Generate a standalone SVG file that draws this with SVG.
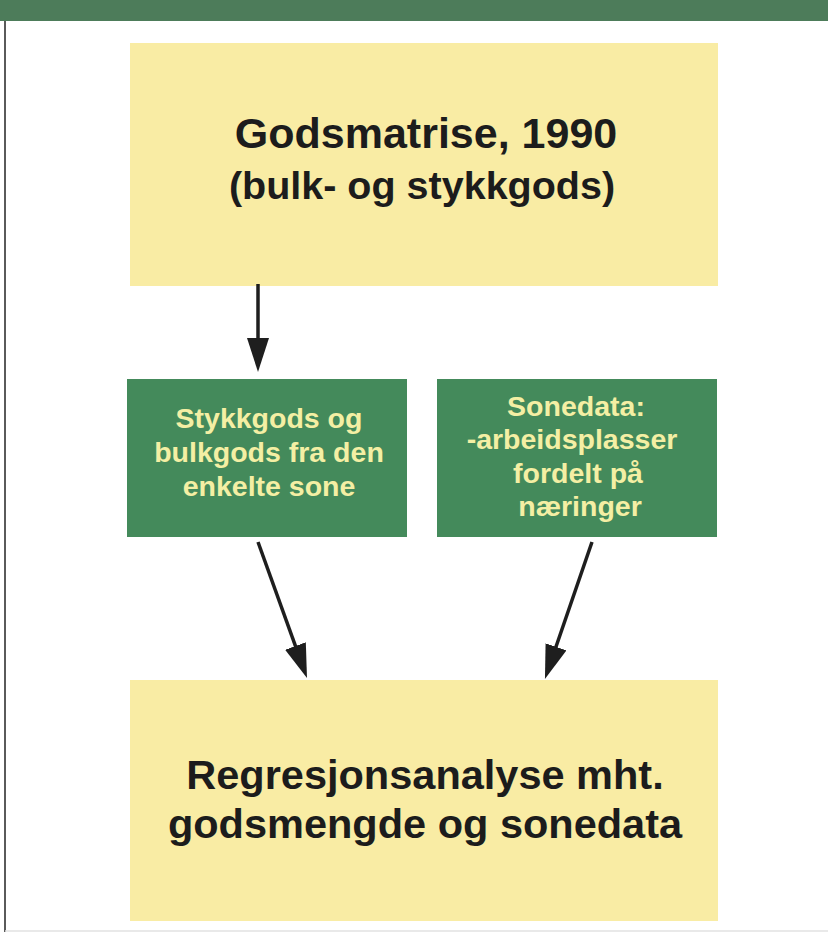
<svg xmlns="http://www.w3.org/2000/svg" width="828" height="932" viewBox="0 0 828 932">
<defs>
<style>
.yel{fill:#f9eca4}
.grn{fill:#448a5b}
.big{font-family:"Liberation Sans",Arial,sans-serif;font-weight:bold;fill:#1c1c1c;text-anchor:middle}
.sm{font-family:"Liberation Sans",Arial,sans-serif;font-weight:bold;fill:#f4efa4;text-anchor:middle;font-size:28.5px}
.arr{stroke:#1e1e1e;stroke-width:3.5;fill:none;marker-end:url(#ah)}
</style>
<marker id="ah" markerUnits="userSpaceOnUse" markerWidth="36" markerHeight="22" refX="24" refY="11" orient="auto" viewBox="0 0 36 22">
<path d="M0,0 L34,11 L0,22 z" fill="#1e1e1e"/>
</marker>
</defs>
<rect x="0" y="0" width="828" height="932" fill="#ffffff"/>
<rect id="header" x="0" y="0" width="828" height="21" fill="#4d7c5a"/>
<line x1="5" y1="21" x2="5" y2="932" stroke="#5a5a5a" stroke-width="2"/>
<line x1="5" y1="931" x2="828" y2="931" stroke="#e2e2e2" stroke-width="1.5"/>

<g id="node-godsmatrise">
<rect class="yel" x="130" y="43" width="588" height="243"/>
<text class="big" font-size="43" x="426" y="148">Godsmatrise, 1990</text>
<text class="big" font-size="39.5" x="422" y="199">(bulk- og stykkgods)</text>
</g>

<g id="node-stykkgods">
<rect class="grn" x="127" y="379" width="280" height="158"/>
<text class="sm" x="269" y="428">Stykkgods og</text>
<text class="sm" x="269" y="462">bulkgods fra den</text>
<text class="sm" x="269" y="496">enkelte sone</text>
</g>

<g id="node-sonedata">
<rect class="grn" x="437" y="379" width="280" height="158"/>
<text class="sm" x="576" y="416">Sonedata:</text>
<text class="sm" x="572" y="449">-arbeidsplasser</text>
<text class="sm" x="578" y="483">fordelt på</text>
<text class="sm" x="580" y="516">næringer</text>
</g>

<g id="node-regresjon">
<rect class="yel" x="130" y="680" width="588" height="241"/>
<text class="big" font-size="41.5" x="425" y="789">Regresjonsanalyse mht.</text>
<text class="big" font-size="41.5" x="425" y="838">godsmengde og sonedata</text>
</g>

<g id="connectors">
<line class="arr" x1="258" y1="284" x2="258" y2="362"/>
<line class="arr" x1="258" y1="542" x2="303.6" y2="668.6"/>
<line class="arr" x1="592" y1="542" x2="548.2" y2="669.5"/>
</g>
</svg>
